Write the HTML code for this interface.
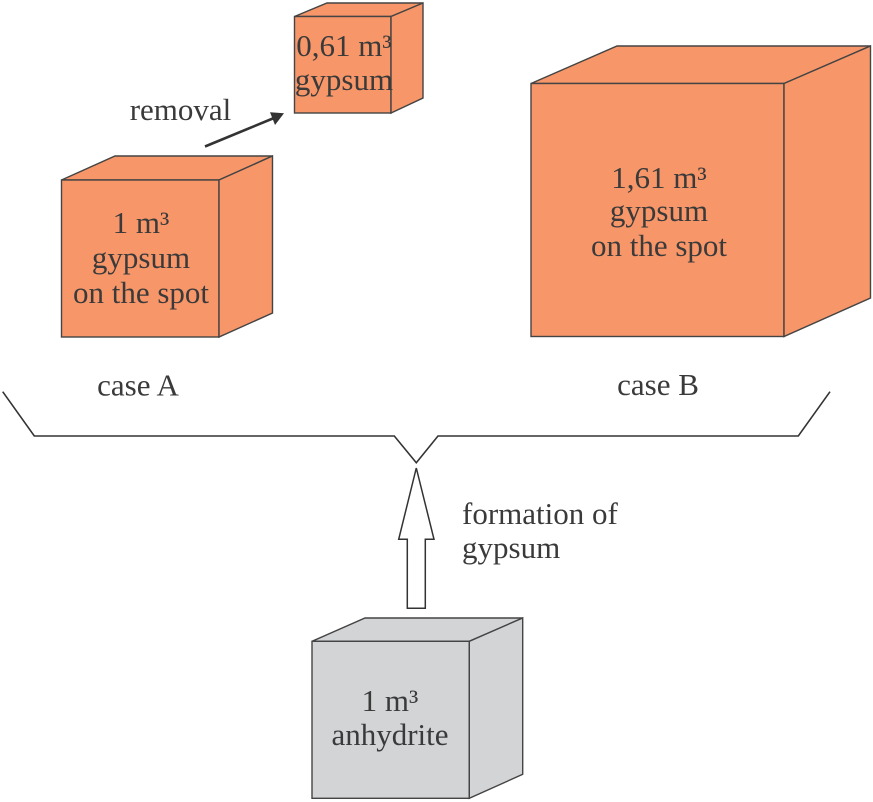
<!DOCTYPE html>
<html>
<head>
<meta charset="utf-8">
<style>
html,body{margin:0;padding:0;background:#fff;width:873px;height:802px;overflow:hidden}
svg{display:block}
text{font-family:"Liberation Serif",serif;font-size:31px;fill:#3a3a3a;text-anchor:middle}
.o{fill:#f79669;stroke:#444;stroke-width:1.4;stroke-linejoin:miter}
.g{fill:#d2d4d6;stroke:#444;stroke-width:1.4;stroke-linejoin:miter}
</style>
</head>
<body>
<svg width="873" height="802" viewBox="0 0 873 802" xmlns="http://www.w3.org/2000/svg">
<!-- small top cube -->
<g class="o">
<polygon points="294.5,16.5 391,16.5 423,3 327,3"/>
<rect x="294.5" y="16.5" width="96.5" height="96.5"/>
<polygon points="391,16.5 423,3 423,98 391,113"/>
</g>
<text x="344" y="56">0,61 m³</text>
<text x="344" y="90">gypsum</text>

<!-- case A cube -->
<g class="o">
<polygon points="61.5,180 219,180 272.5,156 115,156"/>
<rect x="61.5" y="180" width="157.5" height="157"/>
<polygon points="219,180 272.5,156 272.5,313 219,337"/>
</g>
<text x="141" y="233">1 m³</text>
<text x="141" y="268">gypsum</text>
<text x="141" y="303">on the spot</text>

<!-- case B cube -->
<g class="o">
<polygon points="531,83.5 784,83.5 870.5,46 617,46"/>
<rect x="531" y="83.5" width="253" height="253"/>
<polygon points="784,83.5 870.5,46 870.5,298 784,336.5"/>
</g>
<text x="659" y="188">1,61 m³</text>
<text x="659" y="221">gypsum</text>
<text x="659" y="256">on the spot</text>

<!-- removal -->
<text x="180.5" y="120">removal</text>
<line x1="205" y1="146.5" x2="274" y2="118" stroke="#333" stroke-width="2.6"/>
<polygon points="284,113.3 270,112.3 275,125" fill="#333"/>

<!-- labels -->
<text x="138" y="395.5">case A</text>
<text x="658" y="395">case B</text>

<!-- bracket -->
<polyline points="2.7,391.7 34.3,436 394.3,436 416.3,462.7 438,436 798.3,436 830,391.7" fill="none" stroke="#333" stroke-width="1.6"/>

<!-- big arrow -->
<polygon points="416.3,468 434,539.3 425.3,539.3 425.3,608.3 407.3,608.3 407.3,539.3 398.7,539.3" fill="#fff" stroke="#333" stroke-width="1.5"/>

<text x="462" y="524" style="text-anchor:start">formation of</text>
<text x="462" y="558" style="text-anchor:start">gypsum</text>

<!-- anhydrite cube -->
<g class="g">
<polygon points="312,641.3 469.3,641.3 522.7,618 365,618"/>
<rect x="312" y="641.3" width="157.3" height="157"/>
<polygon points="469.3,641.3 522.7,618 522.7,774.3 469.3,798.3"/>
</g>
<text x="390" y="711">1 m³</text>
<text x="390" y="745">anhydrite</text>
</svg>
</body>
</html>
